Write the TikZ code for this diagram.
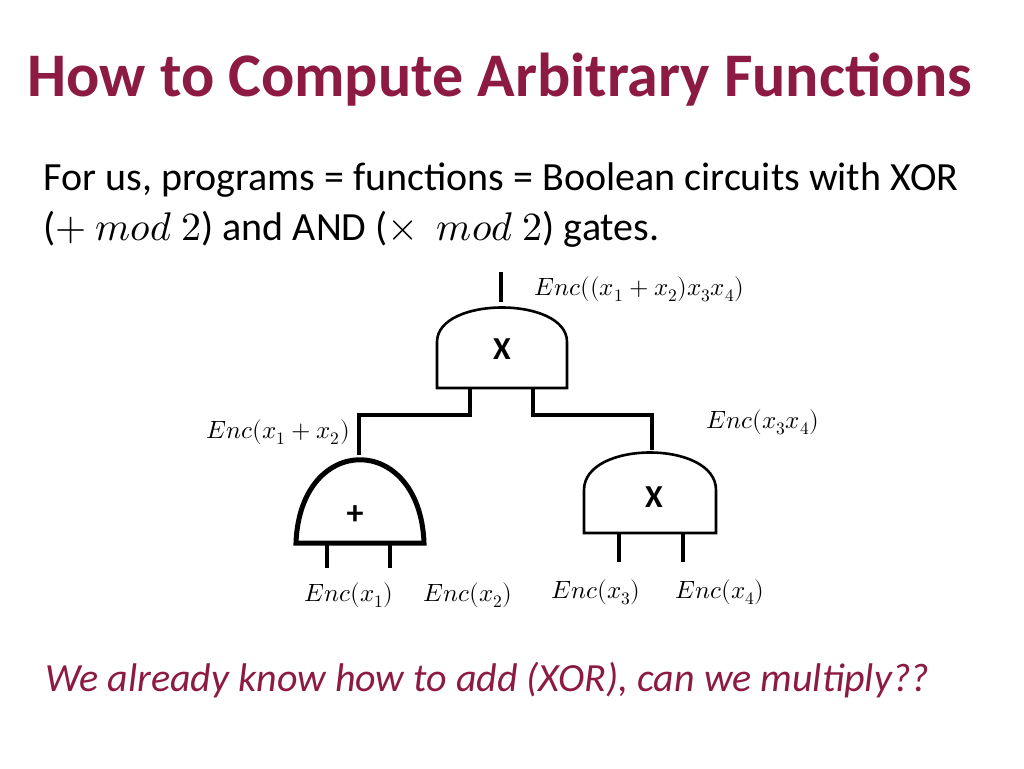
\documentclass[tikz,border=0pt]{standalone}
\usepackage{fontspec}
\usepackage{unicode-math}
\setmainfont{Carlito}
\setmathfont{Latin Modern Math}
\usetikzlibrary{positioning}
\definecolor{titlered}{RGB}{140,26,66}
\tikzset{
  gate/.style={draw, line width=2.6pt, fill=white},
  wire/.style={line width=3.6pt},
  lbl/.style={font=\fontsize{25}{30}\selectfont, inner sep=1pt}
}
\begin{document}
\begin{tikzpicture}[x=1pt,y=-1pt]
  \useasboundingbox (0,0) rectangle (1024,768);
  \node[anchor=west, text=titlered, font=\fontsize{62}{66}\selectfont\bfseries] (title) at (24,80) {How to Compute Arbitrary Functions};
  \node[anchor=west, align=left, font=\fontsize{40}{50}\selectfont] (body) at (40,205)
    {For us, programs = functions = Boolean circuits with XOR\\($+\ mod\ 2$) and AND ($\times\ \ mod\ 2$) gates.};

  % gates
  \draw[gate] (437,388) -- (437,342) .. controls (437,296) and (567,296) .. (567,342) -- (567,388) -- cycle;
  \node[font=\fontsize{32}{32}\selectfont\bfseries] (top) at (502,349) {X};
  \draw[gate, line width=5pt] (296,543) .. controls (300,432) and (420,432) .. (424,543) -- cycle;
  \node[font=\fontsize{34}{34}\selectfont\bfseries] (plus) at (355,515) {+};
  \draw[gate] (584,533) -- (584,490) .. controls (584,440) and (716,440) .. (716,490) -- (716,533) -- cycle;
  \node[font=\fontsize{32}{32}\selectfont\bfseries] (right) at (654,497) {X};

  % wires
  \coordinate (out) at (501,272);
  \coordinate (topin1) at (470,388);
  \coordinate (topin2) at (533,388);
  \coordinate (plustop) at (359,455);
  \coordinate (righttop) at (652,450);
  \draw[wire] (out) -- (501,302);
  \draw[wire] (topin1) -- (470,415) -- (359,415) -- (plustop);
  \draw[wire] (topin2) -- (533,415) -- (652,415) -- (righttop);
  \foreach \x/\b/\e in {327/545/568, 390/545/568, 619/533/562, 683/533/562}
    \draw[wire] (\x,\b) -- (\x,\e);

  % labels
  \node[lbl, anchor=west] (lout) at (533,289) {$Enc((x_1+x_2)x_3x_4)$};
  \node[lbl, anchor=east] (lplus) at (351,432) {$Enc(x_1+x_2)$};
  \node[lbl, anchor=west] (lright) at (705,422) {$Enc(x_3x_4)$};
  \node[lbl] (l1) at (349,595) {$Enc(x_1)$};
  \node[lbl] (l2) at (468,595) {$Enc(x_2)$};
  \node[lbl] (l3) at (596,592) {$Enc(x_3)$};
  \node[lbl] (l4) at (720,592) {$Enc(x_4)$};

  \node[anchor=west, text=titlered, font=\fontsize{40}{44}\selectfont\itshape] (q) at (42,680) {We already know how to add (XOR), can we multiply??};
\end{tikzpicture}
\end{document}
